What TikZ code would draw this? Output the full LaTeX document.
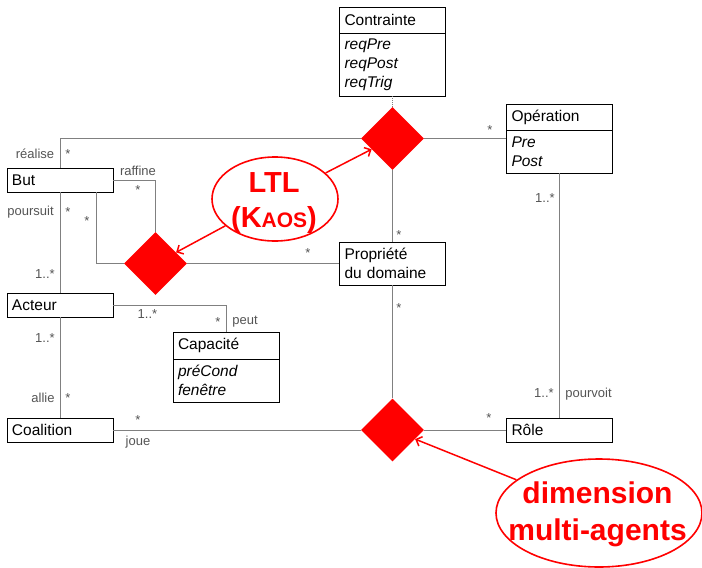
\documentclass[tikz,border=0pt]{standalone}
\usepackage{fontspec}
\setmainfont{Liberation Sans}
\usetikzlibrary{shapes.geometric,arrows.meta}

\definecolor{linkgray}{gray}{0.5}
\definecolor{labgray}{gray}{0.33}
\definecolor{kred}{RGB}{255,0,0}

\begin{document}
\begin{tikzpicture}[x=1pt,y=-1pt,
  cls/.style={draw=black, line width=0.9pt, rectangle, inner xsep=5pt, inner ysep=0pt,
              text width=96pt, align=left, font=\fontsize{15.5}{19}\selectfont},
  attr/.style={cls, font=\fontsize{15.5}{19}\selectfont\itshape},
  link/.style={draw=linkgray, line width=1pt},
  role/.style={text=labgray, font=\fontsize{13}{15}\selectfont, inner sep=0pt, anchor=base},
  assoc/.style={diamond, fill=kred, minimum width=63pt, minimum height=63pt, inner sep=0pt},
  callout/.style={ellipse, draw=kred, line width=1.6pt, inner sep=0pt},
  callouttext/.style={text=kred, font=\fontsize{29}{35}\selectfont\bfseries, anchor=base, inner sep=0pt},
  pointer/.style={draw=kred, line width=1.5pt, -{Straight Barb[length=5pt,width=10pt]}}
]
\useasboundingbox (0,0) rectangle (702,568);

% classes
\node[cls, minimum height=26pt] (ctr) at (392.5,20) {Contrainte};
\node[attr, minimum height=63pt] (ctrA) at (392.5,64.5) {reqPre\\reqPost\\reqTrig};
\node[cls, minimum height=26pt] (op) at (559.5,117) {Opération};
\node[attr, minimum height=43pt] (opA) at (559.5,151.5) {Pre\\Post};
\node[cls, minimum height=24pt] (but) at (60,180) {But};
\node[cls, minimum height=24pt] (act) at (60,305) {Acteur};
\node[cls, minimum height=24pt] (coal) at (60,430) {Coalition};
\node[cls, minimum height=27pt] (cap) at (226,345.5) {Capacité};
\node[attr, minimum height=43pt] (capA) at (226,380.5) {préCond\\fenêtre};
\node[cls, minimum height=43pt] (prop) at (392.5,263.5) {Propriété\\du domaine};
\node[cls, minimum height=24pt] (role) at (559.5,430) {Rôle};

% n-ary associations
\node[assoc] (d1) at (392.5,138.5) {};
\node[assoc] (d2) at (155.5,263.5) {};
\node[assoc] (d3) at (392.5,430) {};

% association lines
\draw[link, dash pattern=on 1pt off 1pt] (ctrA.south) -- (d1.north);
\draw[link] (d1.east) -- (d1.east -| opA.west);
\draw[link] (d1.west) -| (but.north);
\draw[link] (but.east) -| (d2.north);
\draw[link] ([xshift=36pt]but.south) |- (d2.west);
\draw[link] (d2.east) -- (prop.west);
\draw[link] (d1.south) -- (prop.north);
\draw[link] (prop.south) -- (d3.north);
\draw[link] (but.south) -- (act.north);
\draw[link] (act.east) -| (cap.north);
\draw[link] (act.south) -- (coal.north);
\draw[link] (coal.east) -- (d3.west);
\draw[link] (d3.east) -- (role.west);
\draw[link] (opA.south) -- (role.north);

% role names and multiplicities
\node[role] at (35,158) {réalise};
\node[role] at (68,158) {*};
\node[role] at (138,175) {raffine};
\node[role] at (138,194.5) {*};
\node[role] at (30.5,215) {poursuit};
\node[role] at (68,216.5) {*};
\node[role] at (87,225) {*};
\node[role] at (45,278) {1..*};
\node[role] at (308,257.5) {*};
\node[role] at (490,134.5) {*};
\node[role] at (545,202) {1..*};
\node[role] at (399,239.5) {*};
\node[role] at (399,312) {*};
\node[role] at (147.5,318) {1..*};
\node[role] at (218,326.5) {*};
\node[role] at (245,324) {peut};
\node[role] at (45,342) {1..*};
\node[role] at (43,402) {allie};
\node[role] at (68,402.5) {*};
\node[role] at (138,424.5) {*};
\node[role] at (138,445) {joue};
\node[role] at (489,422.5) {*};
\node[role] at (544,397) {1..*};
\node[role] at (588.5,397) {pourvoit};

% red callouts
\node[callout, minimum width=126pt, minimum height=84pt] (ltl) at (275,199) {};
\node[callouttext] (ltlA) at (274,192) {LTL};
\node[callouttext] (ltlB) at (274,227) {(K{\fontsize{21}{25}\selectfont AOS})};
\node[callout, minimum width=206pt, minimum height=108pt] (mas) at (599,513) {};
\node[callouttext, font=\fontsize{30}{36}\selectfont\bfseries] (masA) at (597.5,503) {dimension};
\node[callouttext, font=\fontsize{30}{36}\selectfont\bfseries] (masB) at (597.5,540) {multi-agents};

\draw[pointer] (ltl) -- (d1);
\draw[pointer] (ltl) -- (d2);
\draw[pointer] (mas) -- (d3);
\end{tikzpicture}
\end{document}
